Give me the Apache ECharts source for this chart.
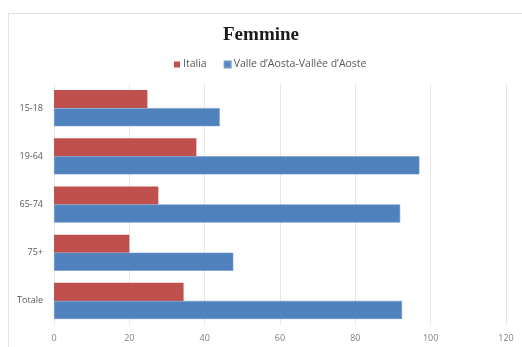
<!DOCTYPE html>
<html>
<head>
<meta charset="utf-8">
<script src="https://cdn.jsdelivr.net/npm/echarts@6/dist/echarts.min.js"></script>
<style>
  html, body { margin: 0; padding: 0; background: #fff; }
  #frame { position: absolute; left: 8px; top: 13px; width: 530px; height: 340px; border: 1px solid #e4e4e4; box-sizing: border-box; }
  #chart { position: absolute; left: 0; top: 0; width: 522px; height: 347px; }
</style>
</head>
<body>
<div id="frame"></div>
<div id="chart"></div>
<script>
// Age groups, top to bottom
const categories = ['15-18', '19-64', '65-74', '75+', 'Totale'];
// Women, percentage values
const italia = [24.8, 37.8, 27.7, 20.0, 34.4];
const valleAosta = [44.0, 97.0, 91.9, 47.6, 92.4];
const xTicks = [0, 20, 40, 60, 80, 100, 120];

const chart = echarts.init(document.getElementById('chart'), null, { renderer: 'canvas' });
chart.setOption({
  animation: false,
  title: {
    text: 'Femmine',
    left: 'center',
    top: 21,
    textStyle: { fontFamily: 'Liberation Serif', fontWeight: 'bold', fontSize: 19, color: '#1a1a1a' }
  },
  legend: {
    top: 54,
    left: 169,
    itemWidth: 6,
    itemHeight: 6,
    itemGap: 17,
    icon: 'rect',
    textStyle: { fontFamily: 'Open Sans', fontSize: 10.5, color: '#595959', padding: [0, 0, 0, -2] },
    data: ['Italia', 'Valle d\u2019Aosta-Vall\u00e9e d\u2019Aoste']
  },
  grid: { left: 54, right: 16, top: 84, bottom: 22, containLabel: false },
  xAxis: {
    type: 'value',
    min: xTicks[0],
    max: xTicks[xTicks.length - 1],
    interval: 20,
    axisLine: { show: false },
    axisTick: { show: false },
    axisLabel: { fontFamily: 'Open Sans', fontSize: 9, color: '#7f7f7f', margin: 9 },
    splitLine: { lineStyle: { color: '#e6e6e6', width: 1 } }
  },
  yAxis: {
    type: 'category',
    inverse: true,
    data: categories,
    axisLine: { show: false },
    axisTick: { show: false },
    axisLabel: { fontFamily: 'Open Sans', fontSize: 9, color: '#595959', margin: 11 }
  },
  series: [
    {
      name: 'Italia',
      type: 'bar',
      data: italia,
      barGap: '0%',
      barCategoryGap: '25%',
      itemStyle: { color: '#c0504d' }
    },
    {
      name: 'Valle d\u2019Aosta-Vall\u00e9e d\u2019Aoste',
      type: 'bar',
      data: valleAosta,
      itemStyle: { color: '#4f81bd', borderColor: '#6f97c9', borderWidth: 0.6 }
    }
  ]
});
</script>
</body>
</html>
